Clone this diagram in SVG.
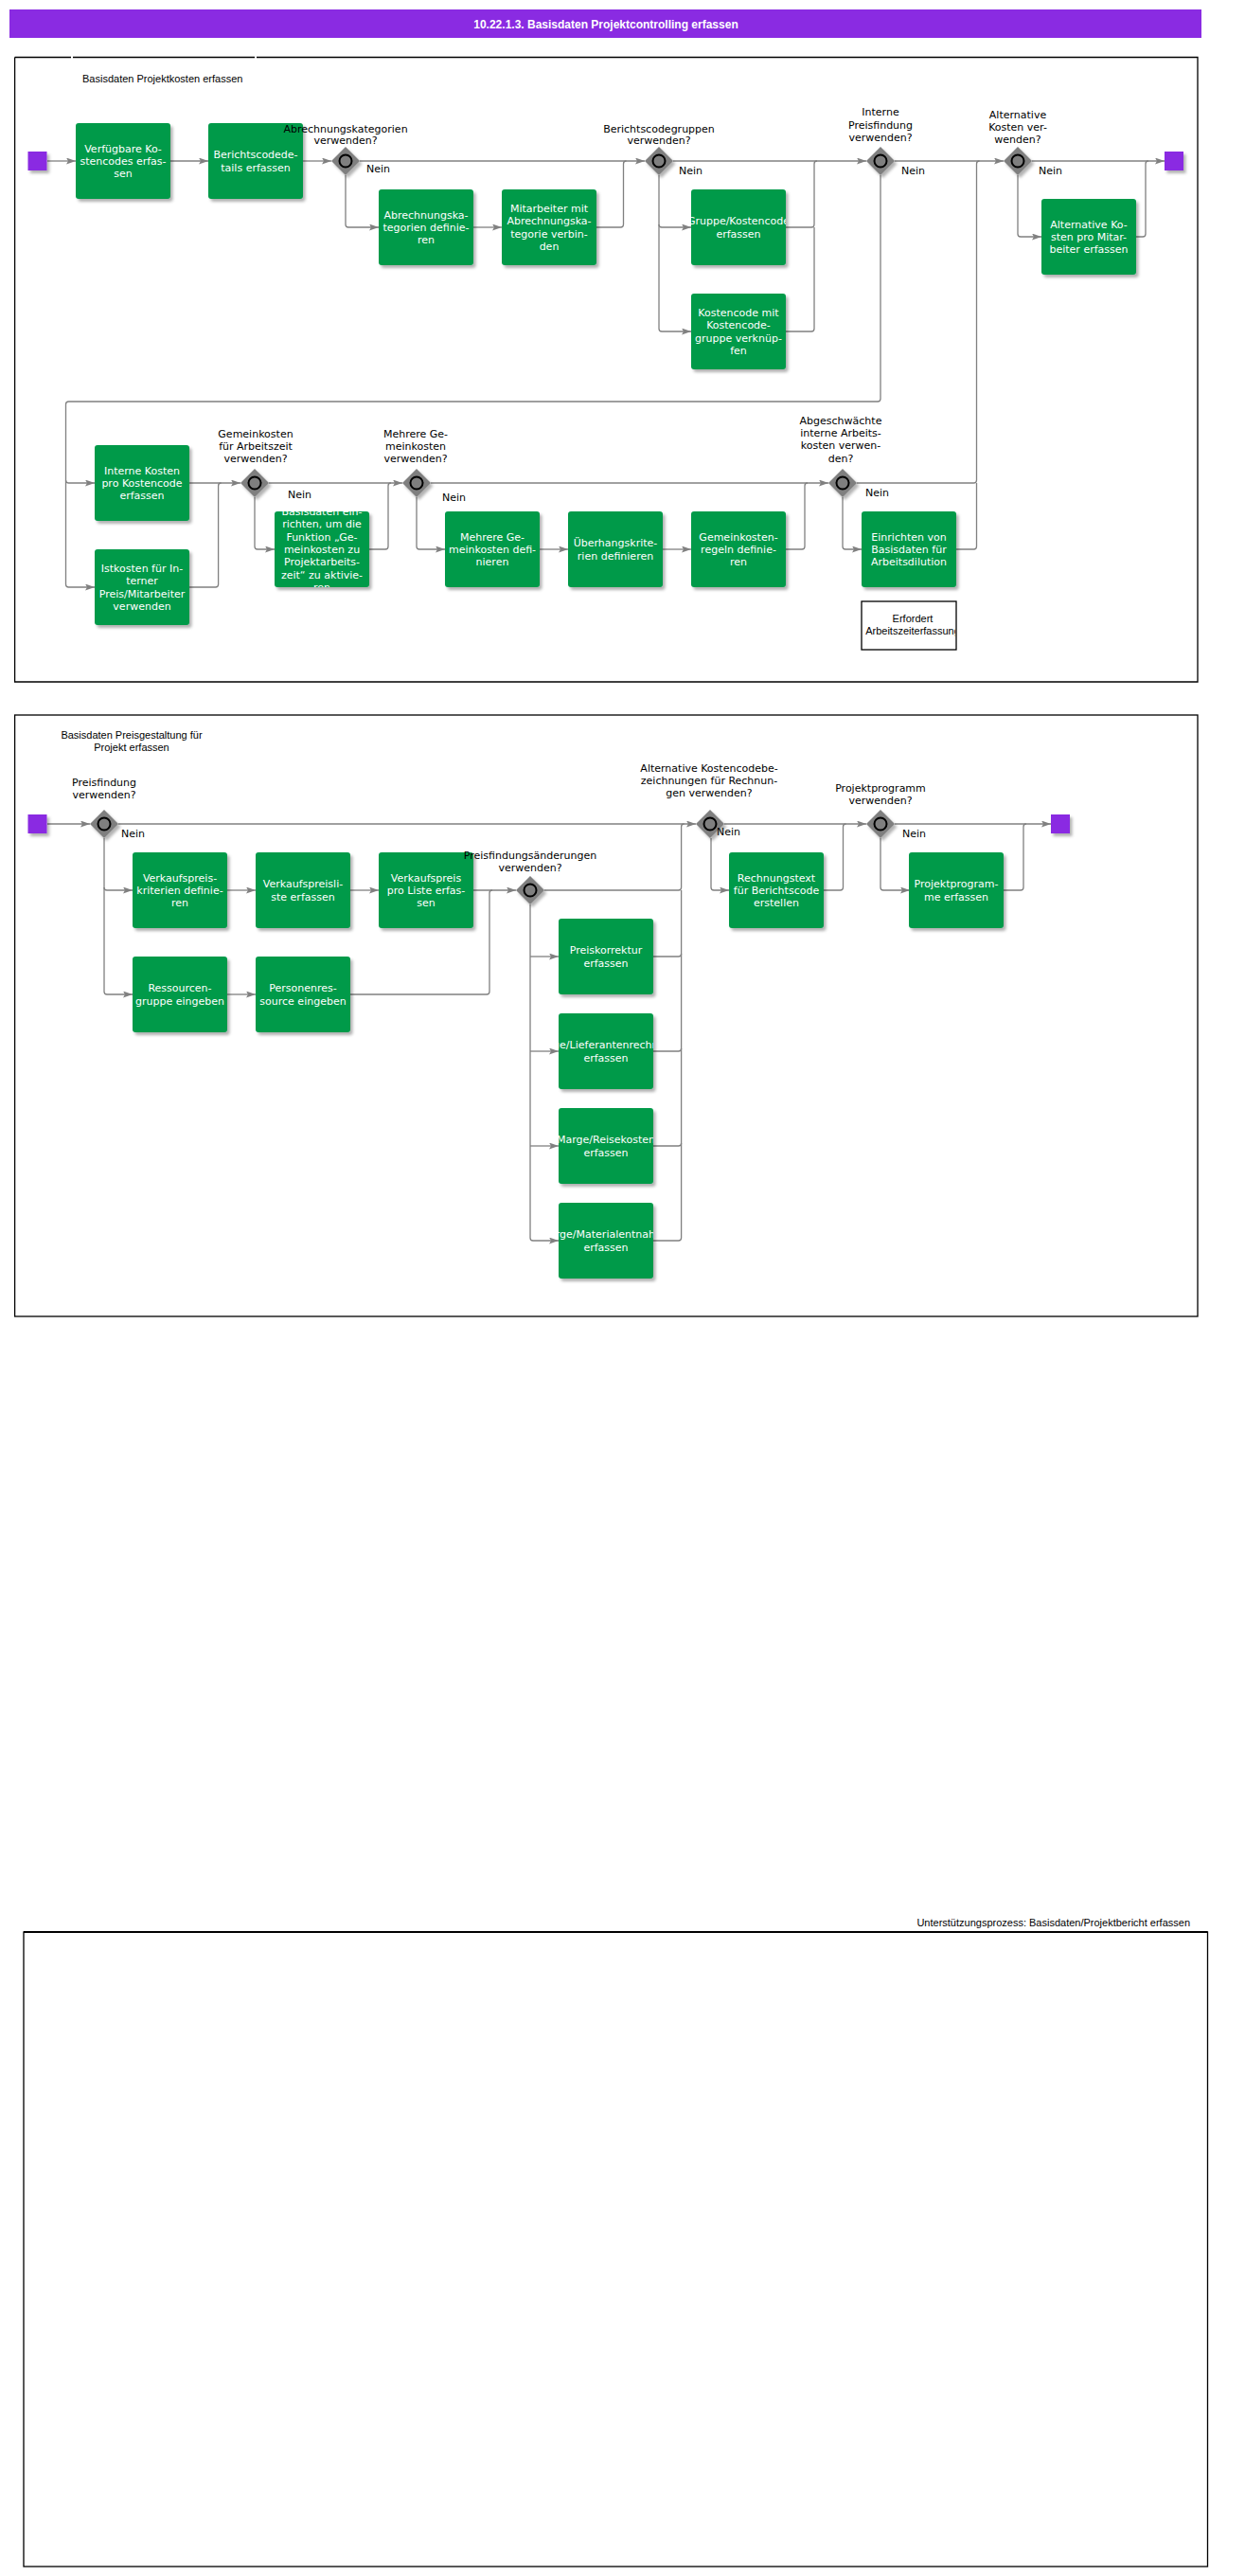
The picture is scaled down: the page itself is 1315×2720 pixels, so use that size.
<svg xmlns="http://www.w3.org/2000/svg" width="1315" height="2720" viewBox="0 0 1315 2720">
<style>
.task{fill:#009a4a;filter:url(#sh)}
.ev{fill:#8a2be2;filter:url(#sh)}
.gw{fill:#7f7f7f;filter:url(#sh)}
.gc{fill:none;stroke:#000;stroke-width:2}
.tt{font-family:"DejaVu Sans",Verdana,sans-serif;font-size:11px;fill:#fff;text-anchor:middle}
.gl{font-family:"DejaVu Sans",Verdana,sans-serif;font-size:11px;fill:#000;text-anchor:middle}
.nein{font-family:"DejaVu Sans",Verdana,sans-serif;font-size:11px;fill:#000}
.lbl{font-family:"Liberation Sans",Arial,sans-serif;font-size:11px;fill:#000}
.conn{fill:none;stroke:#808080;stroke-width:1.3}
.arr{marker-end:url(#ah)}
.pool{fill:none;stroke:#000;stroke-width:1.3}
</style>
<defs>
<filter id="sh" x="-20%" y="-20%" width="150%" height="150%">
<feDropShadow dx="2.5" dy="3" stdDeviation="1.5" flood-color="#000" flood-opacity="0.3"/>
</filter>
<marker id="ah" viewBox="0 0 10 7" refX="10" refY="3.5" markerWidth="10" markerHeight="7" markerUnits="userSpaceOnUse" orient="auto">
<path d="M0,0 L10,3.5 L0,7 L2,3.5 z" fill="#808080"/>
</marker>
<clipPath id="cT5"><rect x="730" y="200" width="100" height="80"/></clipPath>
<clipPath id="cT10"><rect x="290" y="540" width="100" height="80"/></clipPath>
<clipPath id="cP2"><rect x="590" y="1070" width="100" height="80"/></clipPath>
<clipPath id="cP3"><rect x="590" y="1170" width="100" height="80"/></clipPath>
<clipPath id="cP4"><rect x="590" y="1270" width="100" height="80"/></clipPath>
<clipPath id="cAn"><rect x="911" y="636" width="98" height="49"/></clipPath>
</defs>
<rect width="1315" height="2720" fill="#fff"/>

<g id="titlebar">
<rect x="10" y="10" width="1259" height="30" fill="#8a2be2"/>
<text x="640" y="30" font-family="Liberation Sans,Arial,sans-serif" font-size="12" font-weight="bold" fill="#fff" text-anchor="middle">10.22.1.3. Basisdaten Projektcontrolling erfassen</text>
</g>

<g id="pool1">
<path class="pool" d="M15.6,60.5 H75 M77,60.5 H269 M271,60.5 H1265 V720 H15.6 V60.5"/>
<text class="lbl" x="87" y="86.5">Basisdaten Projektkosten erfassen</text>
</g>
<g id="pool2">
<rect class="pool" x="15.6" y="755" width="1249.4" height="635"/>
<text class="lbl" text-anchor="middle"><tspan x="139" y="780">Basisdaten Preisgestaltung für</tspan><tspan x="139" y="793">Projekt erfassen</tspan></text>
</g>
<g id="pool3">
<rect class="pool" x="25" y="2040" width="1250.5" height="670"/>
<line x1="25" y1="2040" x2="1275.5" y2="2040" stroke="#000" stroke-width="2"/>
<text class="lbl" x="1257" y="2034" text-anchor="end">Unterstützungsprozess: Basisdaten/Projektbericht erfassen</text>
</g>

<g id="connectors">
<path class="conn arr" d="M50,170 H80"/>
<path class="conn arr" d="M180,170 H220"/>
<path class="conn arr" d="M320,170 H350"/>
<path class="conn arr" d="M380,170 H681"/>
<path class="conn arr" d="M365,185 V237 Q365,240 368,240 H400"/>
<path class="conn arr" d="M500,240 H530"/>
<path class="conn" d="M630,240 H655.5 Q658.5,240 658.5,237 V173 Q658.5,170 661.5,170"/>
<path class="conn arr" d="M711,170 H915"/>
<path class="conn arr" d="M696,185 V347 Q696,350 699,350 H730"/>
<path class="conn arr" d="M696,237 Q696,240 699,240 H730"/>
<path class="conn" d="M830,240 H857 Q860,240 860,237 V173 Q860,170 863,170"/>
<path class="conn" d="M830,350 H857 Q860,350 860,347 V240"/>
<path class="conn arr" d="M945,170 H1060"/>
<path class="conn arr" d="M930,185 V421 Q930,424 927,424 H72.5 Q69.5,424 69.5,427 V617 Q69.5,620 72.5,620 H100"/>
<path class="conn arr" d="M69.5,507 Q69.5,510 72.5,510 H100"/>
<path class="conn arr" d="M1090,170 H1230"/>
<path class="conn arr" d="M1075,185 V247 Q1075,250 1078,250 H1100"/>
<path class="conn" d="M1200,250 H1207 Q1210,250 1210,247 V173 Q1210,170 1213,170"/>

<path class="conn arr" d="M200,510 H254"/>
<path class="conn" d="M200,620 H227.6 Q230.6,620 230.6,617 V513 Q230.6,510 233.6,510"/>
<path class="conn arr" d="M284,510 H425"/>
<path class="conn arr" d="M269,525 V577 Q269,580 272,580 H290"/>
<path class="conn" d="M390,580 H407 Q410,580 410,577 V513 Q410,510 413,510"/>
<path class="conn arr" d="M455,510 H875"/>
<path class="conn arr" d="M440,525 V577 Q440,580 443,580 H470"/>
<path class="conn arr" d="M570,580 H600"/>
<path class="conn arr" d="M700,580 H730"/>
<path class="conn" d="M830,580 H847 Q850,580 850,577 V513 Q850,510 853,510"/>
<path class="conn arr" d="M890,525 V577 Q890,580 893,580 H910"/>
<path class="conn" d="M905,510 H1028.5 Q1031.5,510 1031.5,507 V173 Q1031.5,170 1034.5,170"/>
<path class="conn" d="M1010,580 H1028.5 Q1031.5,580 1031.5,577 V510"/>

<path class="conn arr" d="M50,870 H95"/>
<path class="conn arr" d="M125,870 H735"/>
<path class="conn arr" d="M110,885 V1047 Q110,1050 113,1050 H140"/>
<path class="conn arr" d="M110,937 Q110,940 113,940 H140"/>
<path class="conn arr" d="M240,940 H270"/>
<path class="conn arr" d="M370,940 H400"/>
<path class="conn arr" d="M240,1050 H270"/>
<path class="conn arr" d="M500,940 H545"/>
<path class="conn" d="M370,1050 H514 Q517,1050 517,1047 V943 Q517,940 520,940"/>
<path class="conn" d="M575,940 H716.6 Q719.6,940 719.6,937 V873 Q719.6,870 722.6,870"/>
<path class="conn arr" d="M560,955 V1307 Q560,1310 563,1310 H590"/>
<path class="conn arr" d="M560,1010 H590"/>
<path class="conn arr" d="M560,1110 H590"/>
<path class="conn arr" d="M560,1210 H590"/>
<path class="conn" d="M690,1310 H716.6 Q719.6,1310 719.6,1307 V940"/>
<path class="conn" d="M690,1010 H716.6 Q719.6,1010 719.6,1007"/>
<path class="conn" d="M690,1110 H716.6 Q719.6,1110 719.6,1107"/>
<path class="conn" d="M690,1210 H716.6 Q719.6,1210 719.6,1207"/>
<path class="conn arr" d="M765,870 H915"/>
<path class="conn arr" d="M751,885 V937 Q751,940 754,940 H770"/>
<path class="conn" d="M870,940 H887.5 Q890.5,940 890.5,937 V873 Q890.5,870 893.5,870"/>
<path class="conn arr" d="M945,870 H1110"/>
<path class="conn arr" d="M930,885 V937 Q930,940 933,940 H961"/>
<path class="conn" d="M1060,940 H1078 Q1081,940 1081,937 V873 Q1081,870 1084,870"/>
</g>

<g id="start1"><rect class="ev" x="29.5" y="160" width="20" height="20"/></g>
<g id="end1"><rect class="ev" x="1230" y="160" width="20" height="20"/></g>
<g id="start2"><rect class="ev" x="29.5" y="860" width="20" height="20"/></g>
<g id="end2"><rect class="ev" x="1110" y="860" width="20" height="20"/></g>

<g id="t1"><rect class="task" x="80" y="130" width="100" height="80" rx="3"/><text class="tt"><tspan x="130" y="160.7">Verfügbare Ko-</tspan><tspan x="130" y="174">stencodes erfas-</tspan><tspan x="130" y="187.3">sen</tspan></text></g>
<g id="t2"><rect class="task" x="220" y="130" width="100" height="80" rx="3"/><text class="tt"><tspan x="270" y="167.3">Berichtscodede-</tspan><tspan x="270" y="180.7">tails erfassen</tspan></text></g>
<g id="t3"><rect class="task" x="400" y="200" width="100" height="80" rx="3"/><text class="tt"><tspan x="450" y="230.7">Abrechnungska-</tspan><tspan x="450" y="244">tegorien definie-</tspan><tspan x="450" y="257.3">ren</tspan></text></g>
<g id="t4"><rect class="task" x="530" y="200" width="100" height="80" rx="3"/><text class="tt"><tspan x="580" y="224">Mitarbeiter mit</tspan><tspan x="580" y="237.3">Abrechnungska-</tspan><tspan x="580" y="250.7">tegorie verbin-</tspan><tspan x="580" y="264">den</tspan></text></g>
<g id="t5"><rect class="task" x="730" y="200" width="100" height="80" rx="3"/><text class="tt" clip-path="url(#cT5)"><tspan x="780" y="237.3">Gruppe/Kostencode</tspan><tspan x="780" y="250.7">erfassen</tspan></text></g>
<g id="t6"><rect class="task" x="730" y="310" width="100" height="80" rx="3"/><text class="tt"><tspan x="780" y="334">Kostencode mit</tspan><tspan x="780" y="347.3">Kostencode-</tspan><tspan x="780" y="360.7">gruppe verknüp-</tspan><tspan x="780" y="374">fen</tspan></text></g>
<g id="t7"><rect class="task" x="1100" y="210" width="100" height="80" rx="3"/><text class="tt"><tspan x="1150" y="240.7">Alternative Ko-</tspan><tspan x="1150" y="254">sten pro Mitar-</tspan><tspan x="1150" y="267.3">beiter erfassen</tspan></text></g>

<g id="t8"><rect class="task" x="100" y="470" width="100" height="80" rx="3"/><text class="tt"><tspan x="150" y="500.7">Interne Kosten</tspan><tspan x="150" y="514">pro Kostencode</tspan><tspan x="150" y="527.3">erfassen</tspan></text></g>
<g id="t9"><rect class="task" x="100" y="580" width="100" height="80" rx="3"/><text class="tt"><tspan x="150" y="604">Istkosten für In-</tspan><tspan x="150" y="617.3">terner</tspan><tspan x="150" y="630.7">Preis/Mitarbeiter</tspan><tspan x="150" y="644">verwenden</tspan></text></g>
<g id="t10"><rect class="task" x="290" y="540" width="100" height="80" rx="3"/><text class="tt" clip-path="url(#cT10)"><tspan x="340" y="544">Basisdaten ein-</tspan><tspan x="340" y="557.3">richten, um die</tspan><tspan x="340" y="570.7">Funktion „Ge-</tspan><tspan x="340" y="584">meinkosten zu</tspan><tspan x="340" y="597.3">Projektarbeits-</tspan><tspan x="340" y="610.7">zeit“ zu aktivie-</tspan><tspan x="340" y="624">ren</tspan></text></g>
<g id="t11"><rect class="task" x="470" y="540" width="100" height="80" rx="3"/><text class="tt"><tspan x="520" y="570.7">Mehrere Ge-</tspan><tspan x="520" y="584">meinkosten defi-</tspan><tspan x="520" y="597.3">nieren</tspan></text></g>
<g id="t12"><rect class="task" x="600" y="540" width="100" height="80" rx="3"/><text class="tt"><tspan x="650" y="577.3">Überhangskrite-</tspan><tspan x="650" y="590.7">rien definieren</tspan></text></g>
<g id="t13"><rect class="task" x="730" y="540" width="100" height="80" rx="3"/><text class="tt"><tspan x="780" y="570.7">Gemeinkosten-</tspan><tspan x="780" y="584">regeln definie-</tspan><tspan x="780" y="597.3">ren</tspan></text></g>
<g id="t14"><rect class="task" x="910" y="540" width="100" height="80" rx="3"/><text class="tt"><tspan x="960" y="570.7">Einrichten von</tspan><tspan x="960" y="584">Basisdaten für</tspan><tspan x="960" y="597.3">Arbeitsdilution</tspan></text></g>
<g id="annotation"><rect x="910" y="635" width="100" height="51" fill="#fff" stroke="#000" stroke-width="1.3"/><text class="lbl" text-anchor="middle" clip-path="url(#cAn)"><tspan x="964" y="657">Erfordert</tspan><tspan x="964" y="670">Arbeitszeiterfassung</tspan></text></g>

<g id="r1"><rect class="task" x="140" y="900" width="100" height="80" rx="3"/><text class="tt"><tspan x="190" y="930.7">Verkaufspreis-</tspan><tspan x="190" y="944">kriterien definie-</tspan><tspan x="190" y="957.3">ren</tspan></text></g>
<g id="r2"><rect class="task" x="270" y="900" width="100" height="80" rx="3"/><text class="tt"><tspan x="320" y="937.3">Verkaufspreisli-</tspan><tspan x="320" y="950.7">ste erfassen</tspan></text></g>
<g id="r3"><rect class="task" x="400" y="900" width="100" height="80" rx="3"/><text class="tt"><tspan x="450" y="930.7">Verkaufspreis</tspan><tspan x="450" y="944">pro Liste erfas-</tspan><tspan x="450" y="957.3">sen</tspan></text></g>
<g id="r4"><rect class="task" x="140" y="1010" width="100" height="80" rx="3"/><text class="tt"><tspan x="190" y="1047.3">Ressourcen-</tspan><tspan x="190" y="1060.7">gruppe eingeben</tspan></text></g>
<g id="r5"><rect class="task" x="270" y="1010" width="100" height="80" rx="3"/><text class="tt"><tspan x="320" y="1047.3">Personenres-</tspan><tspan x="320" y="1060.7">source eingeben</tspan></text></g>
<g id="p1"><rect class="task" x="590" y="970" width="100" height="80" rx="3"/><text class="tt"><tspan x="640" y="1007.3">Preiskorrektur</tspan><tspan x="640" y="1020.7">erfassen</tspan></text></g>
<g id="p2"><rect class="task" x="590" y="1070" width="100" height="80" rx="3"/><text class="tt" clip-path="url(#cP2)"><tspan x="640" y="1107.3">Marge/Lieferantenrechnung</tspan><tspan x="640" y="1120.7">erfassen</tspan></text></g>
<g id="p3"><rect class="task" x="590" y="1170" width="100" height="80" rx="3"/><text class="tt" clip-path="url(#cP3)"><tspan x="640" y="1207.3">Marge/Reisekosten</tspan><tspan x="640" y="1220.7">erfassen</tspan></text></g>
<g id="p4"><rect class="task" x="590" y="1270" width="100" height="80" rx="3"/><text class="tt" clip-path="url(#cP4)"><tspan x="640" y="1307.3">Marge/Materialentnahme</tspan><tspan x="640" y="1320.7">erfassen</tspan></text></g>
<g id="c1"><rect class="task" x="770" y="900" width="100" height="80" rx="3"/><text class="tt"><tspan x="820" y="930.7">Rechnungstext</tspan><tspan x="820" y="944">für Berichtscode</tspan><tspan x="820" y="957.3">erstellen</tspan></text></g>
<g id="d1"><rect class="task" x="960" y="900" width="100" height="80" rx="3"/><text class="tt"><tspan x="1010" y="937.3">Projektprogram-</tspan><tspan x="1010" y="950.7">me erfassen</tspan></text></g>

<g id="g1"><path class="gw" d="M365,155 L380,170 L365,185 L350,170 Z"/><circle class="gc" cx="365" cy="170" r="6.5"/><text class="gl"><tspan x="365" y="139.7">Abrechnungskategorien</tspan><tspan x="365" y="152.3">verwenden?</tspan></text><text class="nein" x="387" y="182">Nein</text></g>
<g id="g2"><path class="gw" d="M696,155 L711,170 L696,185 L681,170 Z"/><circle class="gc" cx="696" cy="170" r="6.5"/><text class="gl"><tspan x="696" y="139.7">Berichtscodegruppen</tspan><tspan x="696" y="152.3">verwenden?</tspan></text><text class="nein" x="717" y="184">Nein</text></g>
<g id="g3"><path class="gw" d="M930,155 L945,170 L930,185 L915,170 Z"/><circle class="gc" cx="930" cy="170" r="6.5"/><text class="gl"><tspan x="930" y="122.3">Interne</tspan><tspan x="930" y="135.7">Preisfindung</tspan><tspan x="930" y="149">verwenden?</tspan></text><text class="nein" x="952" y="184">Nein</text></g>
<g id="g4"><path class="gw" d="M1075,155 L1090,170 L1075,185 L1060,170 Z"/><circle class="gc" cx="1075" cy="170" r="6.5"/><text class="gl"><tspan x="1075" y="125">Alternative</tspan><tspan x="1075" y="138.3">Kosten ver-</tspan><tspan x="1075" y="151">wenden?</tspan></text><text class="nein" x="1097" y="184">Nein</text></g>
<g id="g5"><path class="gw" d="M269,495 L284,510 L269,525 L254,510 Z"/><circle class="gc" cx="269" cy="510" r="6.5"/><text class="gl"><tspan x="270" y="462.3">Gemeinkosten</tspan><tspan x="270" y="475">für Arbeitszeit</tspan><tspan x="270" y="488">verwenden?</tspan></text><text class="nein" x="304" y="526">Nein</text></g>
<g id="g6"><path class="gw" d="M440,495 L455,510 L440,525 L425,510 Z"/><circle class="gc" cx="440" cy="510" r="6.5"/><text class="gl"><tspan x="439" y="462.3">Mehrere Ge-</tspan><tspan x="439" y="475">meinkosten</tspan><tspan x="439" y="488">verwenden?</tspan></text><text class="nein" x="467" y="529">Nein</text></g>
<g id="g7"><path class="gw" d="M890,495 L905,510 L890,525 L875,510 Z"/><circle class="gc" cx="890" cy="510" r="6.5"/><text class="gl"><tspan x="888" y="448">Abgeschwächte</tspan><tspan x="888" y="461">interne Arbeits-</tspan><tspan x="888" y="474">kosten verwen-</tspan><tspan x="888" y="488">den?</tspan></text><text class="nein" x="914" y="524">Nein</text></g>
<g id="ga"><path class="gw" d="M110,855 L125,870 L110,885 L95,870 Z"/><circle class="gc" cx="110" cy="870" r="6.5"/><text class="gl"><tspan x="110" y="830">Preisfindung</tspan><tspan x="110" y="843">verwenden?</tspan></text><text class="nein" x="128" y="884">Nein</text></g>
<g id="gb"><path class="gw" d="M560,925 L575,940 L560,955 L545,940 Z"/><circle class="gc" cx="560" cy="940" r="6.5"/><text class="gl"><tspan x="560" y="907.3">Preisfindungsänderungen</tspan><tspan x="560" y="920">verwenden?</tspan></text></g>
<g id="gcx"><path class="gw" d="M750,855 L765,870 L750,885 L735,870 Z"/><circle class="gc" cx="750" cy="870" r="6.5"/><text class="gl"><tspan x="749" y="815">Alternative Kostencodebe-</tspan><tspan x="749" y="828">zeichnungen für Rechnun-</tspan><tspan x="749" y="841.3">gen verwenden?</tspan></text><text class="nein" x="757" y="882">Nein</text></g>
<g id="gd"><path class="gw" d="M930,855 L945,870 L930,885 L915,870 Z"/><circle class="gc" cx="930" cy="870" r="6.5"/><text class="gl"><tspan x="930" y="836.3">Projektprogramm</tspan><tspan x="930" y="849">verwenden?</tspan></text><text class="nein" x="953" y="884">Nein</text></g>
</svg>
